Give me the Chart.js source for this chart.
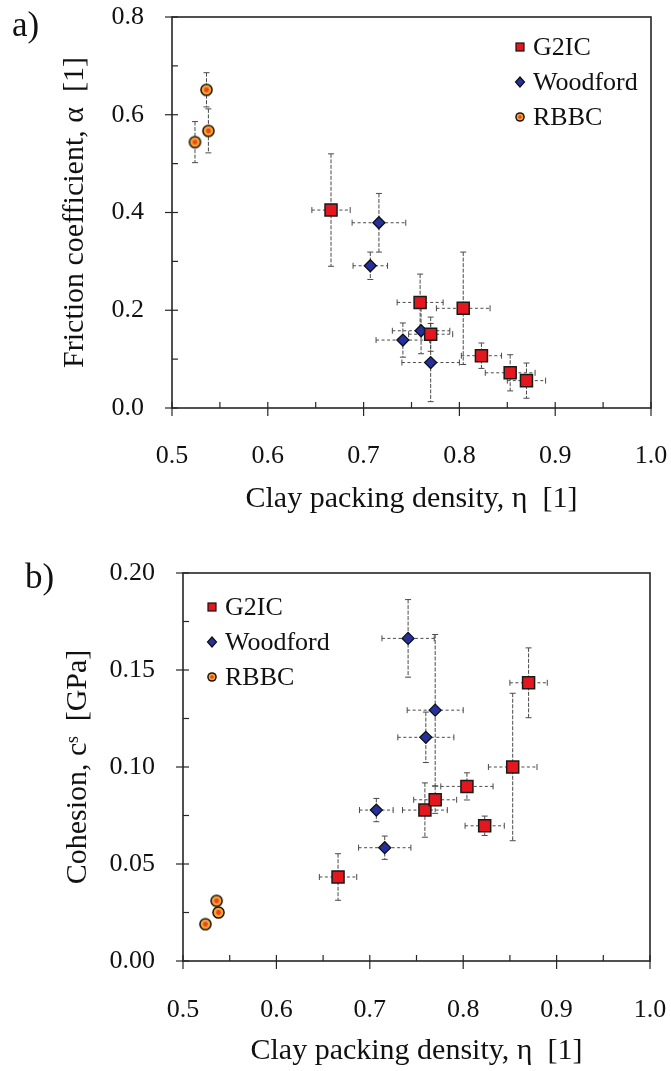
<!DOCTYPE html>
<html>
<head>
<meta charset="utf-8">
<script src="https://cdn.jsdelivr.net/npm/chart.js@4.4.0/dist/chart.umd.min.js"></script>
<style>
  body { margin: 0; background: #fff; }
  .wrap { position: relative; width: 671px; height: 1071px; }
  canvas { position: absolute; left: 0; }
  #chartA { top: 0; }
  #chartB { top: 540px; }
  .tag { position: absolute; font-family: "Liberation Serif", "Times New Roman", serif; font-size: 35px; line-height: 1; color: #111; }
</style>
</head>
<body>
<div class="wrap">
  <canvas id="chartA" width="671" height="540"></canvas>
  <canvas id="chartB" width="671" height="531"></canvas>
  <div class="tag" style="left:12px;top:7px">a)</div>
  <div class="tag" style="left:25px;top:559px">b)</div>
</div>
<script>
// clay packing density (shared by both panels)
const G2IC_DENSITY = [0.666, 0.759, 0.770, 0.804, 0.823, 0.853, 0.870];
const G2IC_DENSITY_ERR = [0.020, 0.024, 0.023, 0.028, 0.021, 0.026, 0.020];
const WOODFORD_DENSITY = [0.707, 0.716, 0.741, 0.760, 0.770];
const WOODFORD_DENSITY_ERR = [0.018, 0.028, 0.028, 0.030, 0.030];
const RBBC_DENSITY = [0.524, 0.536, 0.538];

// a) friction coefficient
const G2IC_FRICTION = [0.405, 0.216, 0.151, 0.204, 0.107, 0.072, 0.056];
const G2IC_FRICTION_ERR = [0.115, 0.058, 0.035, 0.115, 0.026, 0.037, 0.036];
const WOODFORD_FRICTION = [0.291, 0.379, 0.139, 0.158, 0.093];
const WOODFORD_FRICTION_ERR = [0.028, 0.060, 0.035, 0.047, 0.080];
const RBBC_FRICTION = [0.544, 0.651, 0.567];
const RBBC_FRICTION_ERR = [0.042, 0.035, 0.045];

// b) cohesion [GPa]
const G2IC_COHESION = [0.0433, 0.0778, 0.0831, 0.090, 0.0697, 0.100, 0.1434];
const G2IC_COHESION_ERR = [0.012, 0.014, 0.007, 0.007, 0.005, 0.038, 0.018];
const WOODFORD_COHESION = [0.0778, 0.0584, 0.1663, 0.1153, 0.1293];
const WOODFORD_COHESION_ERR = [0.006, 0.006, 0.020, 0.013, 0.039];
const RBBC_COHESION = [0.019, 0.031, 0.025];

const X_TICKS = [0.5, 0.6, 0.7, 0.8, 0.9, 1.0];
const FRICTION_TICKS = [0.0, 0.2, 0.4, 0.6, 0.8];
const COHESION_TICKS = [0.00, 0.05, 0.10, 0.15, 0.20];

const serif = '"Liberation Serif", "Times New Roman", serif';

function makeDot(r) {
  const c = document.createElement('canvas');
  const s = Math.ceil(r * 2 + 2);
  c.width = s; c.height = s;
  const g = c.getContext('2d');
  const m = s / 2;
  g.beginPath(); g.arc(m, m, r, 0, Math.PI * 2); g.fillStyle = '#1c140a'; g.fill();
  g.beginPath(); g.arc(m, m, r - 1.5, 0, Math.PI * 2); g.fillStyle = '#f4a433'; g.fill();
  g.beginPath(); g.arc(m, m, r * 0.38, 0, Math.PI * 2); g.fillStyle = '#ee4420'; g.fill();
  return c;
}
const dotBig = makeDot(6.3);
const dotSmall = makeDot(4.8);

const pts = (xs, ys) => xs.map((v, i) => ({x: v, y: ys[i]}));

function line(ctx, x1, y1, x2, y2) {
  ctx.beginPath(); ctx.moveTo(x1, y1); ctx.lineTo(x2, y2); ctx.stroke();
}

// error bars, frame and ticks, drawn under the markers
const decor = {
  id: 'decor',
  beforeDatasetsDraw(chart, args, opts) {
    const {ctx, chartArea: a, scales: {x, y}} = chart;
    ctx.save();
    ctx.strokeStyle = '#4a4a4a';
    ctx.lineWidth = 1;
    chart.data.datasets.forEach(ds => {
      const xe = ds.xErr || [], ye = ds.yErr || [];
      ds.data.forEach((p, j) => {
        const px = x.getPixelForValue(p.x), py = y.getPixelForValue(p.y);
        if (ye[j]) {
          const t = y.getPixelForValue(p.y + ye[j]), b = y.getPixelForValue(p.y - ye[j]);
          ctx.setLineDash([4, 1.5]);
          line(ctx, px, t, px, b);
          ctx.setLineDash([]);
          line(ctx, px - 3, t, px + 3, t);
          line(ctx, px - 3, b, px + 3, b);
        }
        if (xe[j]) {
          const l = x.getPixelForValue(p.x - xe[j]), r = x.getPixelForValue(p.x + xe[j]);
          ctx.setLineDash([3, 2.5]);
          line(ctx, l, py, r, py);
          ctx.setLineDash([]);
          line(ctx, l, py - 3, l, py + 3);
          line(ctx, r, py - 3, r, py + 3);
        }
      });
    });

    // frame
    ctx.strokeStyle = '#262626';
    ctx.lineWidth = 1.6;
    ctx.strokeRect(a.left, a.top, a.right - a.left, a.bottom - a.top);

    // ticks
    ctx.lineWidth = 1.2;
    x.ticks.forEach(t => {
      const px = x.getPixelForValue(t.value);
      line(ctx, px, a.bottom - 6, px, a.bottom + 8);
      const m = x.getPixelForValue(t.value + opts.xMinor);
      if (m < a.right - 2) line(ctx, m, a.bottom - 6, m, a.bottom);
    });
    y.ticks.forEach(t => {
      const py = y.getPixelForValue(t.value);
      line(ctx, a.left - 7, py, a.left + 6, py);
      const m = y.getPixelForValue(t.value + opts.yMinor);
      if (m > a.top + 2) line(ctx, a.left, m, a.left + 6, m);
    });
    ctx.restore();
  },
  afterDraw(chart, args, opts) {
    // legend
    const {ctx, chartArea: a} = chart;
    const lx = opts.legendRight ? a.right - opts.legendX : a.left + opts.legendX;
    let ly = a.top + opts.legendY;
    ctx.save();
    ctx.font = '26px ' + serif;
    ctx.textBaseline = 'middle';
    chart.data.datasets.forEach(ds => {
      ctx.lineWidth = 1.2;
      ctx.strokeStyle = '#111';
      if (ds.pointStyle === 'rect') {
        ctx.fillStyle = ds.backgroundColor;
        ctx.fillRect(lx - 4, ly - 4, 8, 8);
        ctx.strokeRect(lx - 4, ly - 4, 8, 8);
      } else if (ds.pointStyle === 'rectRot') {
        ctx.beginPath();
        ctx.moveTo(lx, ly - 5); ctx.lineTo(lx + 4.5, ly); ctx.lineTo(lx, ly + 5); ctx.lineTo(lx - 4.5, ly);
        ctx.closePath();
        ctx.fillStyle = ds.backgroundColor; ctx.fill(); ctx.stroke();
      } else {
        ctx.drawImage(dotSmall, lx - dotSmall.width / 2, ly - dotSmall.height / 2);
      }
      ctx.fillStyle = '#111';
      ctx.fillText(ds.label, lx + 13, ly + 1);
      ly += 35;
    });
    ctx.restore();
  }
};

function datasets(g2y, g2e, wy, we, ry, re) {
  return [
    {label: 'G2IC', data: pts(G2IC_DENSITY, g2y), xErr: G2IC_DENSITY_ERR, yErr: g2e,
     pointStyle: 'rect', pointRadius: 8.5, backgroundColor: '#e3171d', borderColor: '#1a1a1a', borderWidth: 1.5},
    {label: 'Woodford', data: pts(WOODFORD_DENSITY, wy), xErr: WOODFORD_DENSITY_ERR, yErr: we,
     pointStyle: 'rectRot', pointRadius: 6, backgroundColor: '#25309c', borderColor: '#111', borderWidth: 1.3},
    {label: 'RBBC', data: pts(RBBC_DENSITY, ry), yErr: re,
     pointStyle: dotBig, pointRadius: 6, backgroundColor: '#f4a433', borderColor: '#111'}
  ];
}

// the scales would otherwise reserve room for edge labels
function noEdgePad(s) {
  s.paddingTop = 0; s.paddingBottom = 0; s.paddingLeft = 0; s.paddingRight = 0;
}

function config(ds, yTicks, yDec, yTitle, geo) {
  return {
    type: 'scatter',
    data: {datasets: ds},
    options: {
      responsive: false,
      animation: false,
      layout: {padding: {left: 0, right: geo.right, top: geo.top, bottom: 0}},
      plugins: {
        legend: {display: false},
        tooltip: {enabled: false},
        decor: {xMinor: 0.05, yMinor: (yTicks[1] - yTicks[0]) / 2,
                legendRight: geo.legendRight, legendX: geo.legendX, legendY: geo.legendY}
      },
      scales: {
        x: {
          type: 'linear', min: X_TICKS[0], max: X_TICKS[X_TICKS.length - 1],
          grid: {display: false}, border: {display: false},
          afterBuildTicks: s => { s.ticks = X_TICKS.map(v => ({value: v})); },
          afterFit: s => { s.height = geo.xHeight; noEdgePad(s); },
          ticks: {padding: geo.xPad, maxRotation: 0, color: '#111', font: {family: serif, size: 26},
                  callback: v => v.toFixed(1)},
          title: {display: true, text: 'Clay packing density, η  [1]', color: '#111',
                  font: {family: serif, size: 30}, padding: {top: 0, bottom: geo.xTitlePad}}
        },
        y: {
          type: 'linear', min: yTicks[0], max: yTicks[yTicks.length - 1],
          grid: {display: false}, border: {display: false},
          afterBuildTicks: s => { s.ticks = yTicks.map(v => ({value: v})); },
          afterFit: s => { s.width = geo.yWidth; noEdgePad(s); },
          ticks: {padding: 20, color: '#111', font: {family: serif, size: 26},
                  callback: v => v.toFixed(yDec)},
          title: {display: true, text: yTitle, color: '#111',
                  font: {family: serif, size: 30}, padding: {top: geo.yTitlePad, bottom: 0}}
        }
      }
    },
    plugins: [decor]
  };
}

new Chart(document.getElementById('chartA'), config(
  datasets(G2IC_FRICTION, G2IC_FRICTION_ERR, WOODFORD_FRICTION, WOODFORD_FRICTION_ERR, RBBC_FRICTION, RBBC_FRICTION_ERR),
  FRICTION_TICKS, 1, 'Friction coefficient, α  [1]',
  {right: 20, top: 17, yWidth: 172, xHeight: 132, xPad: 25, xTitlePad: 23, yTitlePad: 57,
   legendRight: true, legendX: 131, legendY: 30}
));

new Chart(document.getElementById('chartB'), config(
  datasets(G2IC_COHESION, G2IC_COHESION_ERR, WOODFORD_COHESION, WOODFORD_COHESION_ERR, RBBC_COHESION, []),
  COHESION_TICKS, 2, 'Cohesion, cˢ  [GPa]',
  {right: 21, top: 33, yWidth: 183, xHeight: 110, xPad: 26, xTitlePad: 2, yTitlePad: 60,
   legendRight: false, legendX: 29, legendY: 34}
));
</script>
</body>
</html>
